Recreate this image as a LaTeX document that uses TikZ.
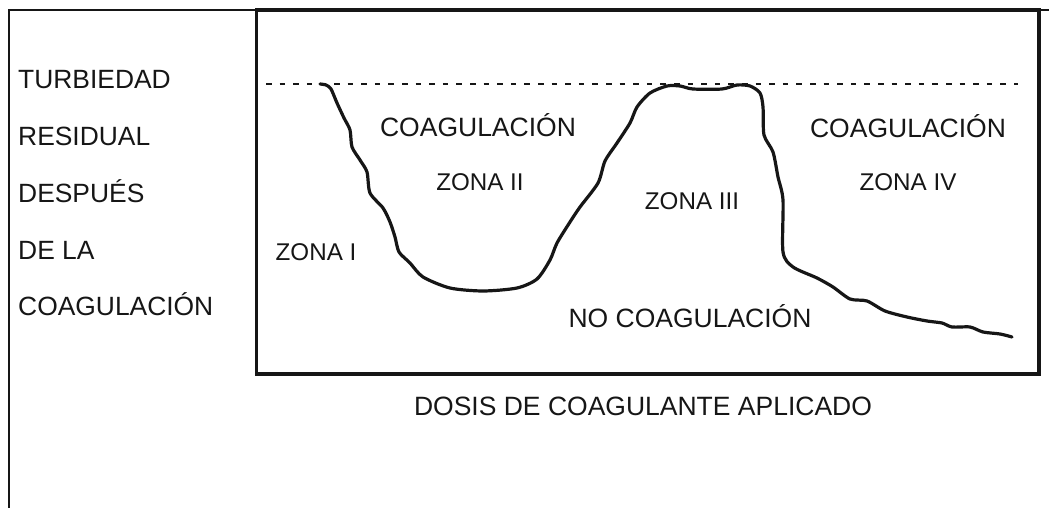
\documentclass[tikz,border=0pt]{standalone}
\usepackage{fontspec}
\setmainfont{Liberation Sans}
\definecolor{ink}{HTML}{161616}
\tikzset{
  lbl/.style={font=\fontsize{26.4}{29}\selectfont, text=ink, inner sep=0pt, anchor=base west},
  big/.style={font=\fontsize{26.5}{29}\selectfont, text=ink, inner sep=0pt, anchor=base},
  zona/.style={font=\fontsize{24.2}{27}\selectfont, text=ink, inner sep=0pt, anchor=base},
  frame/.style={draw=ink, line width=2.6pt},
  boxline/.style={draw=ink, line width=3.6pt},
  curveline/.style={draw=ink, line width=3.2pt, line join=round, line cap=round},
  dashline/.style={draw=ink, line width=2.6pt, dash pattern=on 5.5pt off 8.1pt}
}
\begin{document}
\begin{tikzpicture}[x=1pt,y=-1pt]
\useasboundingbox (0,0) rectangle (1049,508);
% outer frame (open to right and bottom)
\draw[frame] (9,520) -- (9,10) -- (1060,10);
% inner plot box
\draw[boxline] (256.5,10) rectangle (1039,374);
% dashed reference line
\coordinate (d1) at (266,84);
\coordinate (d2) at (1018,84);
\draw[dashline] (d1) -- (d2);
% turbidity curve
\draw[curveline] plot[smooth, tension=0.45] coordinates {
 (320,84) (326,85) (331,89) (337,103) (344,118) (350,130) (352,147) (360,160) (367,172)
 (370,193) (383,208) (390,222) (395,237) (399,252) (410,263) (423,277) (450,288)
 (483,291) (517,288) (537,279) (550,260) (557,243) (570,222) (580,207) (598,183)
 (605,161) (617,143) (630,123) (637,107) (650,93) (667,86) (680,86) (693,89)
 (722,89) (737,85) (750,86) (760,93) (763,107) (764,135) (773,152) (778,177)
 (783,200) (783,252) (793,267) (817,278) (833,287) (850,299) (867,301) (885,311)
 (907,317) (927,321) (942,323) (952,327) (970,327) (983,332) (1000,334) (1012,337)};
% axis labels
\node[lbl] (t1) at (18,89) {TURBIEDAD};
\node[lbl] (t2) at (18,146) {RESIDUAL};
\node[lbl] (t3) at (18,202) {DESPUÉS};
\node[lbl] (t4) at (18,259) {DE LA};
\node[lbl] (t5) at (18,315) {COAGULACIÓN};
\node[big] (xl) at (643,415) {DOSIS DE COAGULANTE APLICADO};
% zone labels
\node[big] (c2) at (478,137) {COAGULACIÓN};
\node[big] (c4) at (908,138) {COAGULACIÓN};
\node[big] (nc) at (690,327) {NO COAGULACIÓN};
\node[zona] (z1) at (316,260) {ZONA I};
\node[zona] (z2) at (480,190) {ZONA II};
\node[zona] (z3) at (692,209) {ZONA III};
\node[zona] (z4) at (908,190) {ZONA IV};
\end{tikzpicture}
\end{document}
